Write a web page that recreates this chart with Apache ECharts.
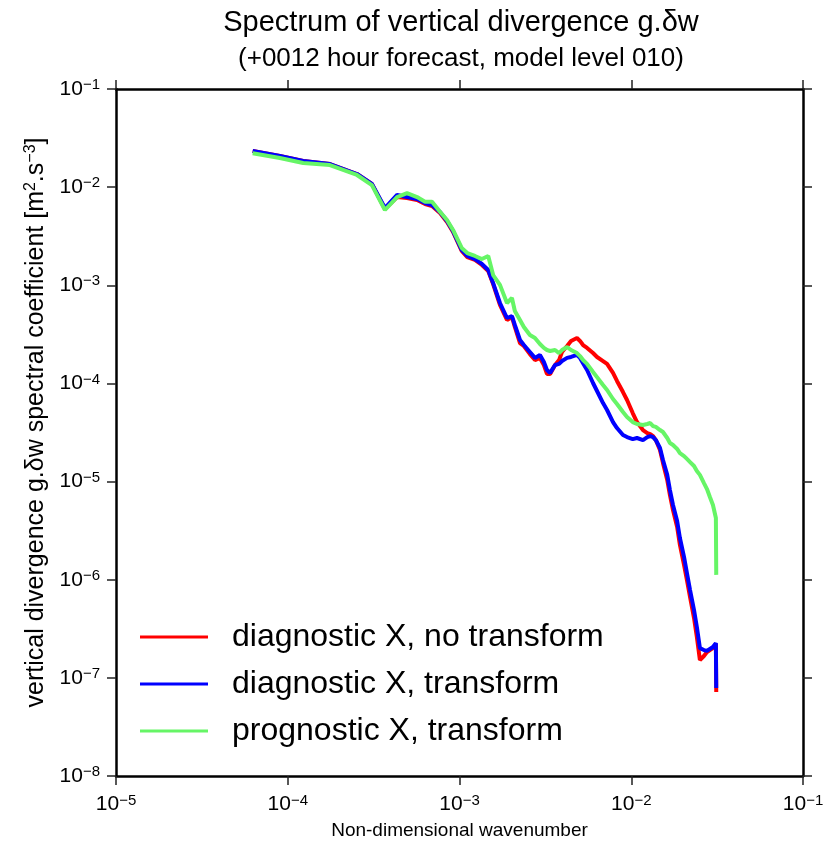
<!DOCTYPE html>
<html>
<head>
<meta charset="utf-8">
<script src="https://cdn.jsdelivr.net/npm/echarts@6/dist/echarts.min.js"></script>
<style>
  html, body { margin: 0; padding: 0; background: #fff; }
  #chart-container { width: 830px; height: 849px; }
</style>
</head>
<body>
<div id="chart-container"></div>
<script>
// non-dimensional wavenumber (shared by the three spectra)
var wavenumber = [
  6.25e-5, 9.0e-5, 1.23e-4, 1.76e-4, 2.53e-4, 3.09e-4, 3.68e-4, 4.33e-4, 4.95e-4, 5.66e-4,
  6.30e-4, 6.92e-4, 7.70e-4, 8.46e-4, 9.17e-4, 1.03e-3, 1.11e-3, 1.23e-3, 1.35e-3, 1.47e-3,
  1.57e-3, 1.72e-3, 1.89e-3, 2.02e-3, 2.10e-3, 2.25e-3, 2.37e-3, 2.57e-3, 2.75e-3, 2.94e-3,
  3.10e-3, 3.23e-3, 3.37e-3, 3.60e-3, 3.80e-3, 3.95e-3, 4.23e-3, 4.46e-3, 4.83e-3, 5.03e-3,
  5.24e-3, 5.53e-3, 5.99e-3, 6.32e-3, 6.85e-3, 7.23e-3, 7.83e-3, 8.26e-3, 8.95e-3, 9.45e-3,
  1.02e-2, 1.08e-2, 1.17e-2, 1.24e-2, 1.29e-2, 1.34e-2, 1.39e-2, 1.47e-2, 1.53e-2, 1.62e-2,
  1.68e-2, 1.75e-2, 1.85e-2, 1.92e-2, 2.03e-2, 2.11e-2, 2.20e-2, 2.32e-2, 2.41e-2, 2.51e-2,
  2.65e-2, 2.76e-2, 2.87e-2, 2.99e-2, 3.11e-2, 3.125e-2
];

var diagNoTransform = [
  2.33e-2, 2.08e-2, 1.85e-2, 1.72e-2, 1.36e-2, 1.08e-2, 5.99e-3, 7.93e-3, 7.75e-3, 7.39e-3,
  6.73e-3, 6.43e-3, 5.45e-3, 4.41e-3, 3.49e-3, 2.24e-3, 1.94e-3, 1.81e-3, 1.61e-3, 1.40e-3,
  1.03e-3, 6.30e-4, 4.43e-4, 4.75e-4, 3.76e-4, 2.58e-4, 2.41e-4, 1.99e-4, 1.73e-4, 1.82e-4,
  1.54e-4, 1.25e-4, 1.25e-4, 1.54e-4, 1.73e-4, 2.09e-4, 2.41e-4, 2.71e-4, 2.90e-4, 2.71e-4,
  2.46e-4, 2.30e-4, 2.04e-4, 1.86e-4, 1.69e-4, 1.58e-4, 1.28e-4, 1.06e-4, 8.17e-5, 6.78e-5,
  4.99e-5, 4.04e-5, 3.35e-5, 3.12e-5, 3.05e-5, 2.91e-5, 2.65e-5, 2.10e-5, 1.55e-5, 1.04e-5,
  7.29e-6, 5.13e-6, 3.44e-6, 2.26e-6, 1.41e-6, 9.92e-7, 6.66e-7, 4.07e-7, 2.61e-7, 1.52e-7,
  1.67e-7, 1.83e-7, 1.92e-7, 2.01e-7, 2.21e-7, 7.17e-8
];

var diagTransform = [
  2.33e-2, 2.08e-2, 1.85e-2, 1.72e-2, 1.36e-2, 1.08e-2, 6.13e-3, 8.32e-3, 7.93e-3, 7.57e-3,
  6.89e-3, 6.58e-3, 5.58e-3, 4.52e-3, 3.57e-3, 2.29e-3, 1.99e-3, 1.85e-3, 1.65e-3, 1.43e-3,
  1.05e-3, 6.60e-4, 4.64e-4, 4.86e-4, 3.94e-4, 2.77e-4, 2.46e-4, 2.09e-4, 1.82e-4, 1.95e-4,
  1.65e-4, 1.37e-4, 1.28e-4, 1.54e-4, 1.58e-4, 1.69e-4, 1.82e-4, 1.86e-4, 1.95e-4, 1.82e-4,
  1.61e-4, 1.37e-4, 1.01e-4, 8.37e-5, 6.31e-5, 5.36e-5, 4.04e-5, 3.51e-5, 2.98e-5, 2.84e-5,
  2.71e-5, 2.78e-5, 2.65e-5, 2.84e-5, 2.91e-5, 2.84e-5, 2.65e-5, 2.20e-5, 1.66e-5, 1.17e-5,
  8.20e-6, 5.77e-6, 3.96e-6, 2.66e-6, 1.70e-6, 1.17e-6, 7.85e-7, 4.91e-7, 3.30e-7, 2.01e-7,
  1.92e-7, 1.88e-7, 1.97e-7, 2.06e-7, 2.26e-7, 7.87e-8
];

var progTransform = [
  2.21e-2, 1.98e-2, 1.76e-2, 1.68e-2, 1.33e-2, 1.05e-2, 5.85e-3, 7.93e-3, 8.71e-3, 7.93e-3,
  7.11e-3, 7.11e-3, 5.62e-3, 4.63e-3, 3.66e-3, 2.40e-3, 2.13e-3, 1.99e-3, 1.85e-3, 1.99e-3,
  1.27e-3, 1.01e-3, 6.60e-4, 7.42e-4, 5.47e-4, 4.43e-4, 3.76e-4, 3.11e-4, 2.90e-4, 2.52e-4,
  2.30e-4, 2.19e-4, 2.14e-4, 2.19e-4, 2.04e-4, 2.19e-4, 2.35e-4, 2.19e-4, 2.04e-4, 1.90e-4,
  1.73e-4, 1.58e-4, 1.31e-4, 1.16e-4, 9.63e-5, 8.57e-5, 6.94e-5, 6.17e-5, 5.11e-5, 4.55e-5,
  4.04e-5, 3.86e-5, 3.77e-5, 3.86e-5, 3.95e-5, 3.68e-5, 3.60e-5, 3.35e-5, 3.20e-5, 2.78e-5,
  2.47e-5, 2.36e-5, 2.15e-5, 1.95e-5, 1.82e-5, 1.70e-5, 1.58e-5, 1.44e-5, 1.28e-5, 1.17e-5,
  9.66e-6, 8.39e-6, 6.96e-6, 5.77e-6, 4.25e-6, 1.12e-6
];

var seriesNames = ["diagnostic X, no transform", "diagnostic X, transform", "prognostic X, transform"];
var seriesColors = ["#ff0000", "#0000ff", "#66f566"];

var FONT = "Liberation Sans, Arial, Helvetica, sans-serif";

var dom = document.getElementById("chart-container");
var myChart = echarts.init(dom, null, { renderer: "canvas" });

function pairs(ys) {
  return wavenumber.map(function (k, i) {
    return [k, ys[i]];
  });
}

// 10^n labels with a raised exponent
function powLabel(value) {
  var e = Math.round(Math.log10(value));
  return "{b|10}{s|\u2212" + Math.abs(e) + "}";
}

var tickRich = {
  b: { fontSize: 21, fontFamily: FONT, color: "#000", lineHeight: 23 },
  s: { fontSize: 15, fontFamily: FONT, color: "#000", verticalAlign: "top", lineHeight: 15 }
};

var axisLine = { show: true, onZero: false, lineStyle: { color: "#000", width: 2.5 } };
var axisTick = { show: true, inside: false, length: 9, lineStyle: { color: "#222", width: 1.5 } };

var option = {
  animation: false,
  backgroundColor: "#fff",
  textStyle: { fontFamily: FONT },
  graphic: [
    {
      type: "text",
      x: 461, y: 23,
      style: {
        text: "Spectrum of vertical divergence g.\u03b4w",
        font: "29px " + FONT,
        fill: "#000",
        textAlign: "center",
        textVerticalAlign: "middle"
      }
    },
    {
      type: "text",
      x: 461, y: 59,
      style: {
        text: "(+0012 hour forecast, model level 010)",
        font: "26px " + FONT,
        fill: "#000",
        textAlign: "center",
        textVerticalAlign: "middle"
      }
    }
  ],
  grid: {
    left: 116, top: 89, width: 687, height: 687,
    containLabel: false,
    outerBoundsMode: "none",
    show: false
  },
  legend: {
    orient: "vertical",
    left: 140,
    top: 621,
    padding: 0,
    icon: "rect",
    itemWidth: 68,
    itemHeight: 3,
    itemGap: 15,
    data: seriesNames,
    textStyle: {
      fontSize: 32,
      fontFamily: FONT,
      color: "#000",
      padding: [0, 0, 0, 19]
    }
  },
  xAxis: [
    {
      type: "log",
      logBase: 10,
      min: 1e-5,
      max: 1e-1,
      position: "bottom",
      axisLine: axisLine,
      axisTick: axisTick,
      splitLine: { show: false },
      minorTick: { show: false },
      axisLabel: { margin: 17, formatter: powLabel, rich: tickRich },
      name: "Non-dimensional wavenumber",
      nameLocation: "middle",
      nameGap: 45,
      nameTextStyle: { fontSize: 19, fontFamily: FONT, color: "#000" }
    },
    {
      type: "log",
      logBase: 10,
      min: 1e-5,
      max: 1e-1,
      position: "top",
      axisLine: axisLine,
      axisTick: axisTick,
      splitLine: { show: false },
      axisLabel: { show: false }
    }
  ],
  yAxis: [
    {
      type: "log",
      logBase: 10,
      min: 1e-8,
      max: 1e-1,
      position: "left",
      axisLine: axisLine,
      axisTick: axisTick,
      splitLine: { show: false },
      minorTick: { show: false },
      axisLabel: { margin: 16, formatter: powLabel, rich: tickRich },
      name: "{a|vertical divergence g.\u03b4w spectral coefficient [m}{s|2}{a|.s}{s|\u22123}{a|]}",
      nameLocation: "middle",
      nameGap: 66,
      nameTextStyle: {
        color: "#000",
        padding: [0, 0, 0, 20],
        rich: {
          a: { fontSize: 25, fontFamily: FONT, color: "#000", lineHeight: 27 },
          s: { fontSize: 16, fontFamily: FONT, color: "#000", verticalAlign: "top", lineHeight: 16 }
        }
      }
    },
    {
      type: "log",
      logBase: 10,
      min: 1e-8,
      max: 1e-1,
      position: "right",
      axisLine: axisLine,
      axisTick: axisTick,
      splitLine: { show: false },
      axisLabel: { show: false }
    }
  ],
  series: [
    {
      name: seriesNames[0],
      type: "line",
      xAxisIndex: 0,
      yAxisIndex: 0,
      showSymbol: false,
      color: seriesColors[0],
      lineStyle: { width: 4, color: seriesColors[0] },
      data: pairs(diagNoTransform)
    },
    {
      name: seriesNames[1],
      type: "line",
      xAxisIndex: 0,
      yAxisIndex: 0,
      showSymbol: false,
      color: seriesColors[1],
      lineStyle: { width: 4, color: seriesColors[1] },
      data: pairs(diagTransform)
    },
    {
      name: seriesNames[2],
      type: "line",
      xAxisIndex: 0,
      yAxisIndex: 0,
      showSymbol: false,
      color: seriesColors[2],
      lineStyle: { width: 4, color: seriesColors[2] },
      data: pairs(progTransform)
    }
  ]
};

if (option && typeof option === "object") {
  myChart.setOption(option);
}

window.addEventListener("resize", myChart.resize);
</script>
</body>
</html>
